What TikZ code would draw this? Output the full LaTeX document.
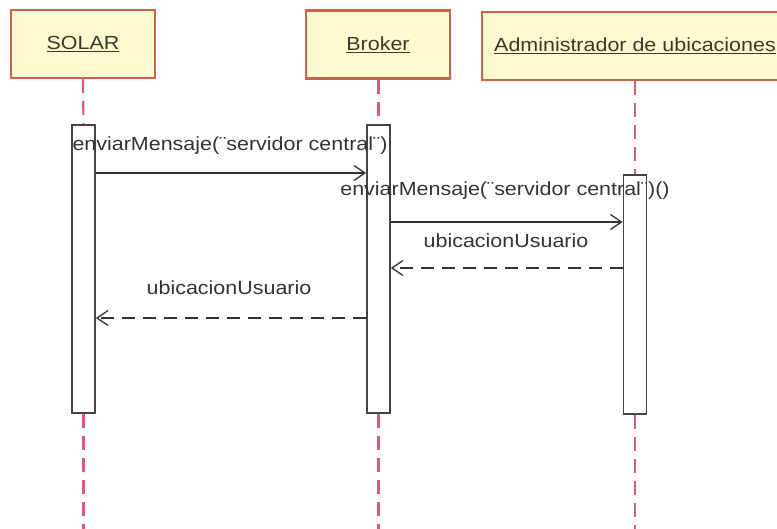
\documentclass[tikz,border=0pt]{standalone}
\usepackage{fontspec}
\setmainfont[FakeStretch=1.13]{Liberation Sans}
\usetikzlibrary{arrows.meta}
\definecolor{boxfill}{HTML}{FCFBCF}
\definecolor{boxred}{HTML}{C8644E}
\definecolor{lifered}{HTML}{D0607A}
\definecolor{actgray}{HTML}{444444}
\definecolor{msggray}{HTML}{333333}
\definecolor{txtgray}{HTML}{333333}
\definecolor{ttlcol}{HTML}{3A3A2A}
\begin{document}
\begin{tikzpicture}[x=1pt,y=-1pt,
  objbox/.style={draw=boxred, fill=boxfill, line width=2.2pt, minimum height=68pt, inner sep=0,
    font=\fontsize{19}{19}\selectfont, text=ttlcol},
  life/.style={draw=lifered, line width=2.2pt, dash pattern=on 14pt off 8pt},
  act/.style={draw=actgray, fill=white, line width=1.8pt, minimum width=23pt, inner sep=0},
  msg/.style={draw=msggray, line width=1.3pt, -{Straight Barb[length=11pt,width=15pt,line width=1.3pt]}},
  ret/.style={msg, dash pattern=on 13pt off 8pt},
  lbl/.style={font=\fontsize{19}{19}\selectfont, text=txtgray, inner sep=0}]
\useasboundingbox (0,0) rectangle (777,529);

% object boxes
\node[objbox, minimum width=144pt] (solar) at (83,44) {\underline{SOLAR}};
\node[objbox, minimum width=144pt] (broker) at (378,44.5) {\underline{Broker}};
\node[objbox, minimum width=306pt] (admin) at (635,46) {\underline{Administrador de ubicaciones}};

% activation bars
\node[act, minimum height=288pt] (sa) at (83.5,269) {};
\node[act, minimum height=288pt] (ba) at (378.5,269) {};
\node[act, minimum height=239pt] (aa) at (635,294.5) {};

% lifeline ends below the picture edge
\coordinate (solarEnd) at (83.5,535);
\coordinate (brokerEnd) at (378.5,535);
\coordinate (adminEnd) at (635,535);

% lifelines
\draw[life] (solar.south) -- (sa.north);
\draw[life] (sa.south) -- (solarEnd);
\draw[life] (broker.south -| ba.north) -- (ba.north);
\draw[life] (ba.south) -- (brokerEnd);
\draw[life] (admin.south -| aa.north) -- (aa.north);
\draw[life] (aa.south) -- (adminEnd);

% redraw activation bars over the lifelines
\node[act, minimum height=288pt] at (sa) {};
\node[act, minimum height=288pt] at (ba) {};
\node[act, minimum height=239pt] at (aa) {};

% message heights
\coordinate (m1) at (0,173);
\coordinate (m2) at (0,222);
\coordinate (m3) at (0,268);
\coordinate (m4) at (0,318);

% messages
\draw[msg] (sa.east |- m1) -- (ba.west |- m1);
\draw[msg] (ba.east |- m2) -- (aa.west |- m2);
\draw[ret] (aa.west |- m3) -- (ba.east |- m3);
\draw[ret] (ba.west |- m4) -- (sa.east |- m4);

% message labels
\node[lbl] (l1) at (230,146) {enviarMensaje(¨servidor central¨)};
\node[lbl] (l2) at (505,191) {enviarMensaje(¨servidor central¨)()};
\node[lbl] (l3) at (506,241) {ubicacionUsuario};
\node[lbl] (l4) at (229,288) {ubicacionUsuario};
\end{tikzpicture}
\end{document}
